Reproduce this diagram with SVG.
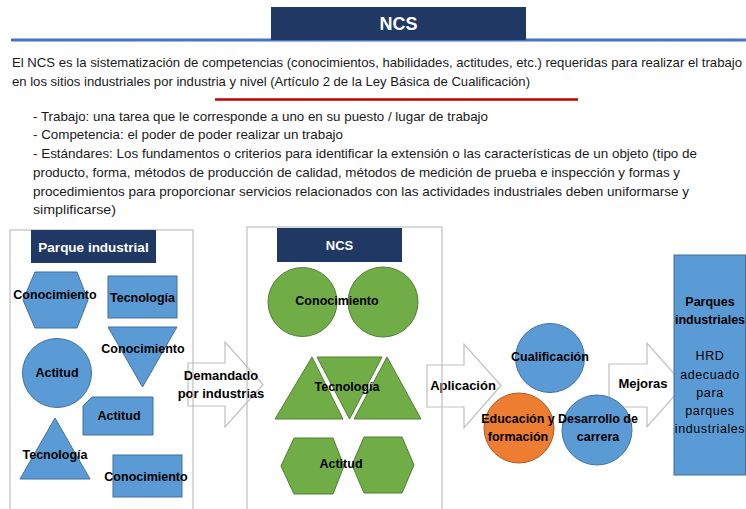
<svg xmlns="http://www.w3.org/2000/svg" width="746" height="509" viewBox="0 0 746 509">
<style>
text{font-family:"Liberation Sans",Arial,sans-serif;}
.p{font-size:13px;fill:#1a1a1a;}
.lb{font-size:12.5px;font-weight:bold;fill:#000;text-anchor:middle;dominant-baseline:central;}
.al{font-size:13px;font-weight:bold;fill:#000;text-anchor:middle;dominant-baseline:central;}
.hd{font-weight:bold;fill:#fff;text-anchor:middle;dominant-baseline:central;}
.blue{fill:#5B9BD5;stroke:#41719C;stroke-width:1;}
.green{fill:#70AD47;stroke:#507E32;stroke-width:1;}
.orange{fill:#ED7D31;stroke:#AE5A21;stroke-width:1;}
.navy{fill:#203864;}
.frame{fill:none;stroke:#BFBFBF;stroke-width:1.2;}
.arrow{fill:#fff;stroke:#BFBFBF;stroke-width:1.2;}
.rt{font-size:12.5px;fill:#000;text-anchor:middle;dominant-baseline:central;letter-spacing:0.6px;}
</style>

<g id="header">
<line x1="11" y1="40" x2="746" y2="40" stroke="#4472C4" stroke-width="3"/>
<rect x="271" y="7" width="255" height="33" class="navy"/>
<text x="398.5" y="24" class="hd" font-size="18">NCS</text>
<text x="12" y="66.5" class="p" textLength="730" lengthAdjust="spacingAndGlyphs">El NCS es la sistematización de competencias (conocimientos, habilidades, actitudes, etc.) requeridas para realizar el trabajo</text>
<text x="12" y="86" class="p" textLength="518" lengthAdjust="spacingAndGlyphs">en los sitios industriales por industria y nivel (Artículo 2 de la Ley Básica de Cualificación)</text>
<line x1="215" y1="99.5" x2="578" y2="99.5" stroke="#C00000" stroke-width="2.5"/>
<text x="33" y="120.5" class="p" textLength="455" lengthAdjust="spacingAndGlyphs">- Trabajo: una tarea que le corresponde a uno en su puesto / lugar de trabajo</text>
<text x="33" y="138.5" class="p" textLength="310" lengthAdjust="spacingAndGlyphs">- Competencia: el poder de poder realizar un trabajo</text>
<text x="33" y="157.5" class="p" textLength="664" lengthAdjust="spacingAndGlyphs">- Estándares: Los fundamentos o criterios para identificar la extensión o las características de un objeto (tipo de</text>
<text x="33" y="176.5" class="p" textLength="647" lengthAdjust="spacingAndGlyphs">producto, forma, métodos de producción de calidad, métodos de medición de prueba e inspección y formas y</text>
<text x="33" y="195.5" class="p" textLength="656" lengthAdjust="spacingAndGlyphs">procedimientos para proporcionar servicios relacionados con las actividades industriales deben uniformarse y</text>
<text x="33" y="213.5" class="p" textLength="83" lengthAdjust="spacingAndGlyphs">simplificarse)</text>
</g>

<g id="connectors">
<polygon class="arrow" points="188,363 225,363 225,342 263,384.5 225,427 225,406 188,406"/>
<text x="221" y="375" class="al">Demandado</text>
<text x="221" y="393" class="al">por industrias</text>
<polygon class="arrow" points="427,365 464,365 464,344 501,385.5 464,428 464,407 427,407"/>
<text x="463" y="385" class="al">Aplicación</text>
<polygon class="arrow" points="609,364 647,364 647,343 684,385 647,427 647,407 609,407"/>
<text x="643" y="383" class="al">Mejoras</text>
</g>

<g id="parque-industrial">
<rect x="10" y="230" width="183" height="290" class="frame"/>
<rect x="31" y="230" width="125" height="33" class="navy"/>
<text x="93.5" y="247" class="hd" font-size="13.5">Parque industrial</text>
<g id="pi-conocimiento-1">
<polygon class="blue" points="35,272 77,272 88,300 77,328 35,328 23,300"/>
<text x="55" y="295" class="lb">Conocimiento</text>
</g>
<g id="pi-tecnologia-1">
<rect x="108" y="276" width="69" height="42" class="blue"/>
<text x="142.5" y="298" class="lb">Tecnología</text>
</g>
<g id="pi-conocimiento-2">
<polygon class="blue" points="108,327 177,327 142.5,387"/>
<text x="143" y="349" class="lb">Conocimiento</text>
</g>
<g id="pi-actitud-1">
<circle cx="57" cy="373" r="34.5" class="blue"/>
<text x="57" y="373" class="lb">Actitud</text>
</g>
<g id="pi-actitud-2">
<path class="blue" d="M92,397 H153 V435 H83 V406 Z"/>
<text x="119" y="416" class="lb">Actitud</text>
</g>
<g id="pi-tecnologia-2">
<polygon class="blue" points="55,418 90,479 20,479"/>
<text x="55" y="455" class="lb">Tecnología</text>
</g>
<g id="pi-conocimiento-3">
<rect x="113" y="455" width="69" height="42" class="blue"/>
<text x="146" y="477" class="lb">Conocimiento</text>
</g>
</g>

<g id="ncs">
<rect x="247" y="227" width="195" height="295" class="frame"/>
<rect x="277" y="228" width="125" height="34" class="navy"/>
<text x="339.5" y="245" class="hd" font-size="13">NCS</text>
<g id="ncs-conocimiento">
<circle cx="302.5" cy="302" r="34.5" class="green"/>
<circle cx="383" cy="302" r="35" class="green"/>
<text x="337" y="301" class="lb">Conocimiento</text>
</g>
<g id="ncs-tecnologia">
<polygon class="green" points="312,357 343,419 275,419"/>
<polygon class="green" points="317,357 382,357 349.5,419"/>
<polygon class="green" points="387,357 421,419 354,419"/>
<text x="347" y="387" class="lb">Tecnología</text>
</g>
<g id="ncs-actitud">
<polygon class="green" points="294,438 333,438 344,466 333,494 294,494 281,466"/>
<polygon class="green" points="364,437 402,437 414,465 402,493 364,493 352,465"/>
<text x="341" y="464" class="lb">Actitud</text>
</g>
</g>

<g id="cualificacion">
<circle cx="550" cy="358" r="34.5" class="blue"/>
<text x="550" y="357" class="lb">Cualificación</text>
</g>
<g id="educacion">
<circle cx="519" cy="428" r="35" class="orange"/>
<text x="518" y="419" class="lb">Educación y</text>
<text x="518" y="437" class="lb">formación</text>
</g>
<g id="desarrollo">
<circle cx="597" cy="430" r="35" class="blue"/>
<text x="598" y="419" class="lb">Desarrollo de</text>
<text x="598" y="437" class="lb">carrera</text>
</g>

<g id="parques-industriales">
<rect x="674" y="255" width="71.5" height="220" class="blue"/>
<text x="710" y="302" class="lb">Parques</text>
<text x="710" y="320" class="lb">industriales</text>
<text x="710" y="356" class="rt">HRD</text>
<text x="710" y="375" class="rt">adecuado</text>
<text x="710" y="393" class="rt">para</text>
<text x="710" y="411" class="rt">parques</text>
<text x="710" y="429" class="rt">industriales</text>
</g>
</svg>
